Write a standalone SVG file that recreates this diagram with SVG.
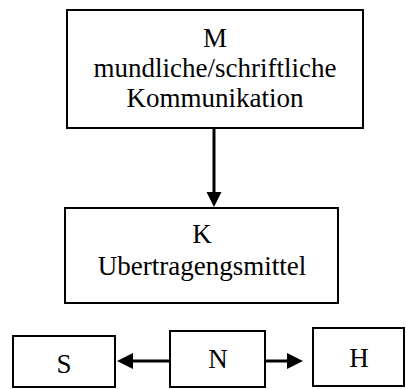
<svg xmlns="http://www.w3.org/2000/svg" width="406" height="389" viewBox="0 0 406 389">
<style>
.box{fill:#fff;stroke:#000;stroke-width:2}
.t{font-family:"Liberation Serif","Times New Roman",serif;font-size:27px;fill:#000;text-anchor:middle}
.c{stroke:#000;stroke-width:3;fill:none}
.h{fill:#000;stroke:none}
</style>
<rect width="406" height="389" fill="#fff"/>
<g id="node-M">
<rect class="box" x="67" y="10" width="296" height="118"/>
<text class="t" x="215" y="47">M</text>
<text class="t" x="215" y="77">mundliche/schriftliche</text>
<text class="t" x="215" y="107">Kommunikation</text>
</g>
<g id="node-K">
<rect class="box" x="65" y="208" width="273" height="95"/>
<text class="t" x="202" y="243">K</text>
<text class="t" x="202" y="275">Ubertragengsmittel</text>
</g>
<g id="node-S">
<rect class="box" x="13" y="336" width="102" height="51"/>
<text class="t" x="64" y="373">S</text>
</g>
<g id="node-N">
<rect class="box" x="170" y="331" width="95" height="56"/>
<text class="t" x="218" y="368">N</text>
</g>
<g id="node-H">
<rect class="box" x="313" y="328" width="91" height="58"/>
<text class="t" x="359" y="367">H</text>
</g>
<g id="connectors">
<line class="c" x1="214" y1="128" x2="214" y2="193"/>
<polygon class="h" points="206.5,192 221.5,192 214,207"/>
<line class="c" x1="169" y1="361" x2="132" y2="361"/>
<polygon class="h" points="133,353 133,369 117,361"/>
<line class="c" x1="265" y1="361" x2="288" y2="361"/>
<polygon class="h" points="287,353 287,369 303,361"/>
</g>
</svg>
